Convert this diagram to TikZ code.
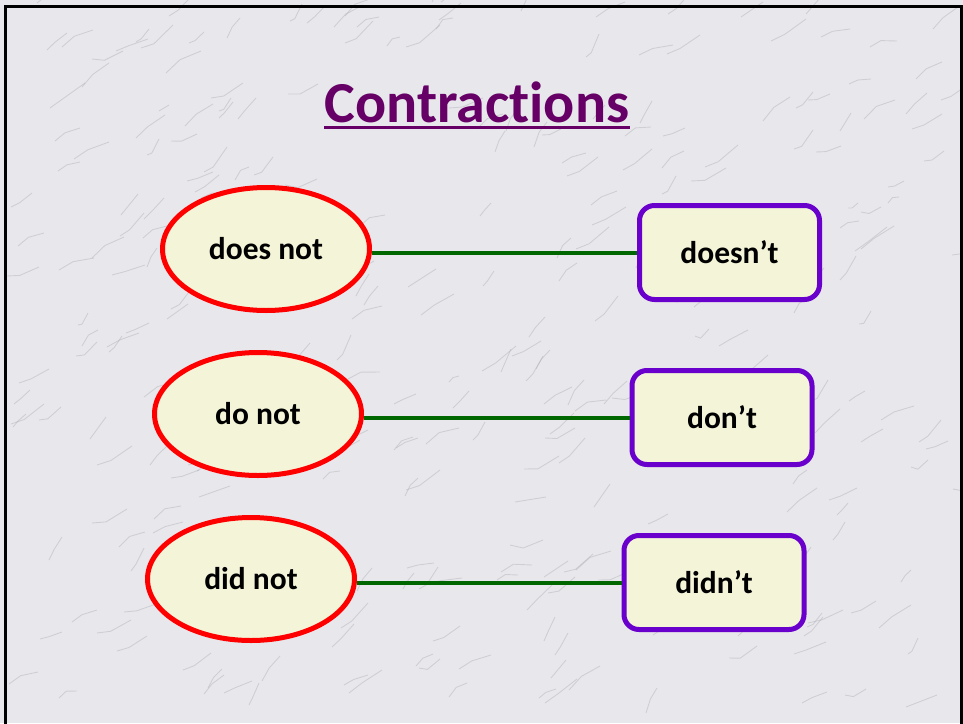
\documentclass[tikz,border=0pt]{standalone}
\usepackage{fontspec}
\setmainfont[Ligatures={NoCommon,NoContextual}]{Carlito}
\usetikzlibrary{shapes.geometric}
\definecolor{marble}{HTML}{E8E8EC}
\definecolor{vein}{HTML}{A8A8B2}
\definecolor{cream}{HTML}{F4F4D8}
\definecolor{titlepurple}{HTML}{660066}
\definecolor{boxpurple}{HTML}{6A00CC}
\definecolor{linkgreen}{HTML}{006600}
\tikzset{
  full/.style={ellipse, draw=red, line width=5pt, fill=cream, minimum width=207pt, minimum height=123pt, inner sep=0pt, font=\bfseries\fontsize{31.5}{34}\selectfont},
  short/.style={rectangle, rounded corners=15pt, draw=boxpurple, line width=5pt, fill=cream, minimum width=180pt, minimum height=94pt, inner sep=0pt, font=\bfseries\fontsize{31.5}{34}\selectfont},
  link/.style={draw=linkgreen, line width=4pt},
  veinline/.style={draw=vein, line width=0.9pt, opacity=0.4}
}
\begin{document}
\begin{tikzpicture}[x=1pt,y=-1pt]
\useasboundingbox (0,0) rectangle (963,723);
\fill[marble] (0,0) rectangle (963,723);
% marble veins
\pgfmathsetseed{7}
\foreach \i in {1,...,300}{
  \pgfmathsetmacro{\xa}{random(0,963)}
  \pgfmathsetmacro{\ya}{random(0,723)}
  \pgfmathsetmacro{\dx}{random(10,35)}
  \pgfmathsetmacro{\dy}{random(-25,-5)}
  \pgfmathsetmacro{\wx}{random(-10,10)}
  \draw[veinline] (\xa,\ya) -- ++(\dx*0.4,\dy*0.4+\wx*0.5) -- ++(\dx*0.6,\dy*0.6-\wx*0.5);
}
% slide frame
\draw[black, line width=3pt] (5.5,740) -- (5.5,6.5) -- (961.5,6.5) -- (961.5,740);
% title
\node[font=\bfseries\fontsize{58}{62}\selectfont, text=titlepurple, inner sep=0pt] (title) at (477,102) {Contractions};
\draw[titlepurple, line width=3pt] (title.south west |- 0,127) -- (title.south east |- 0,127);
% ellipses
\node[full] (e1) at (266,249) {does not};
\node[full] (e2) at (258,414) {do not};
\node[full] (e3) at (251,579) {did not};
% boxes
\node[short] (b1) at (729.5,252.5) {doesn’t};
\node[short] (b2) at (722,417.5) {don’t};
\node[short] (b3) at (714,582.5) {didn’t};
% connectors
\draw[link] (e1.east |- b1.west) -- (b1.west);
\draw[link] (e2.east |- b2.west) -- (b2.west);
\draw[link] (e3.east |- b3.west) -- (b3.west);
\end{tikzpicture}
\end{document}
